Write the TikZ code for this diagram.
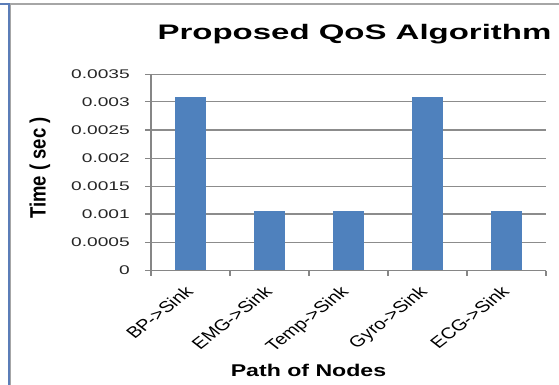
\documentclass[tikz,border=0pt]{standalone}
\usepackage{fontspec}
\setmainfont{Liberation Sans}
\definecolor{barblue}{HTML}{4F81BD}
\definecolor{gridgray}{HTML}{8C8C8C}
\definecolor{axisgray}{HTML}{868686}
\definecolor{frameblue}{HTML}{5B7DB8}
\definecolor{framegray}{HTML}{A6A6A6}
% value -> vertical position (0 at y=270.5, 0.0005 per 28.07 units)
\newcommand{\yval}[1]{270.5-56.14*(1000*#1)}
\begin{document}
\begin{tikzpicture}[x=1pt,y=-1pt,
  gridline/.style={draw=gridgray,line width=1.2pt},
  axisline/.style={draw=axisgray,line width=1.4pt},
  ticklab/.style={anchor=east,inner sep=0pt,text=black!85},
  catlab/.style={anchor=north east,inner sep=0pt},
  bar/.style={fill=barblue}]
\useasboundingbox (0,0) rectangle (559,385);
\fill[white] (0,0) rectangle (559,385);
% window frame on the left and top
\draw[framegray,line width=1.3pt] (10,385) -- (10,4) -- (559,4);
\draw[frameblue,line width=2pt] (0,4) -- (8.5,4) -- (8.5,385);
% title
\node[inner sep=0pt] (title) at (354.5,34.5)
  {\scalebox{1.57}[1]{\fontsize{21}{24}\selectfont\bfseries Proposed QoS Algorithm}};
% horizontal gridlines with tick labels
\foreach \v/\lab [count=\k] in {0.0005/0.0005,0.001/0.001,0.0015/0.0015,0.002/0.002,
    0.0025/0.0025,0.003/0.003,0.0035/0.0035}{
  \draw[gridline] (151,{\yval{\v}}) -- (546,{\yval{\v}});
  \draw[axisline] (145,{\yval{\v}}) -- (151,{\yval{\v}});
  \node[ticklab] (tick\k) at (130,{\yval{\v}})
    {\scalebox{1.52}[1]{\fontsize{12.6}{14}\selectfont \lab}};
}
\node[ticklab] (tick0) at (130,270.5)
  {\scalebox{1.52}[1]{\fontsize{12.6}{14}\selectfont 0}};
% bars
\foreach \v [count=\i from 0] in {0.00309,0.00105,0.00105,0.00309,0.00105}{
  \fill[bar] ({151+79*\i+23.8},270.5) rectangle ({151+79*\i+55.2},{\yval{\v}});
}
% axes
\draw[axisline] (151,74) -- (151,276);
\draw[axisline] (145,270.5) -- (546,270.5);
\foreach \i in {1,...,5}{
  \draw[axisline] ({151+79*\i},270.5) -- ({151+79*\i},276);
}
% category labels
\foreach \lab [count=\i from 0] in {BP->Sink,EMG->Sink,Temp->Sink,Gyro->Sink,ECG->Sink}{
  \node[catlab] (cat\i) at ({151+79*\i+43.5},285)
    {\scalebox{1.28}[1]{\rotatebox{45}{\fontsize{15.7}{17}\selectfont \lab}}};
}
% axis titles
\node[inner sep=0pt] (ytitle) at (40,168)
  {\scalebox{1.2}[1]{\rotatebox{90}{\fontsize{18.5}{21}\selectfont\bfseries Time ( sec )}}};
\node[inner sep=0pt] (xtitle) at (308.5,370)
  {\scalebox{1.36}[1]{\fontsize{17}{20}\selectfont\bfseries Path of Nodes}};
\end{tikzpicture}
\end{document}
